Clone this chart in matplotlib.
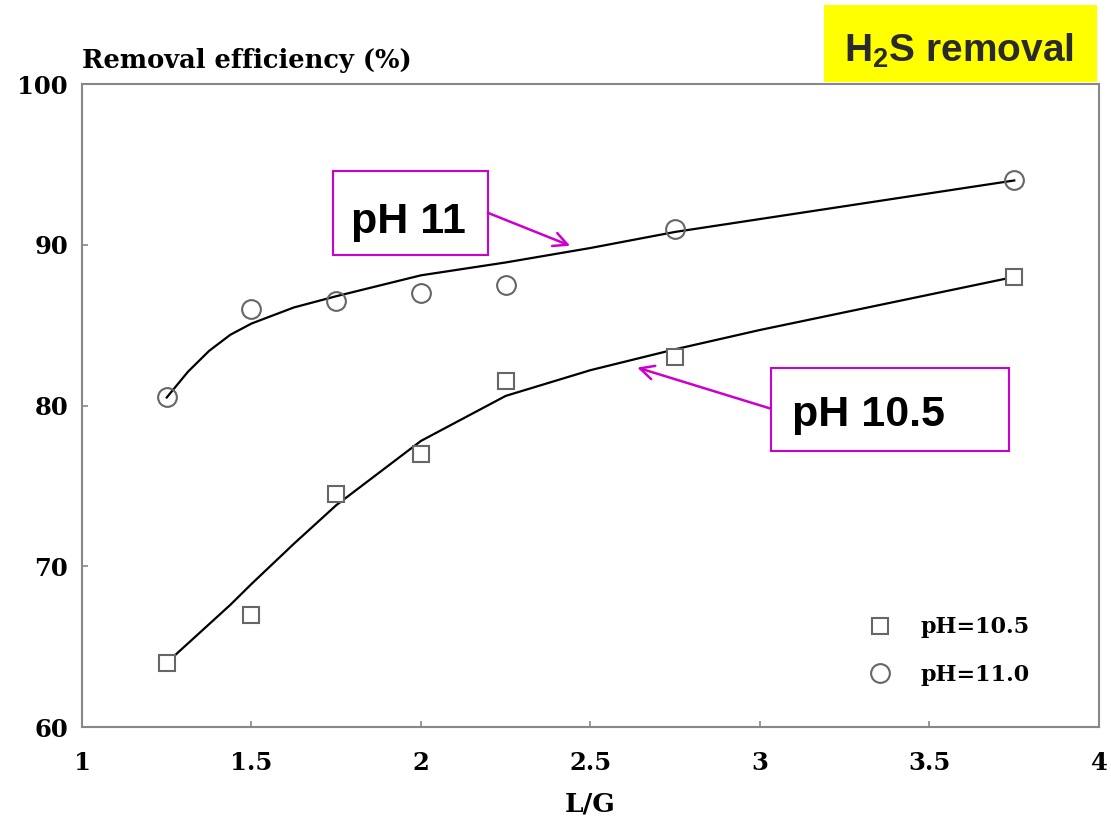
import matplotlib.pyplot as plt
from matplotlib import font_manager
from matplotlib.patches import Rectangle

# measured points
lg = [1.25, 1.5, 1.75, 2.0, 2.25, 2.75, 3.75]
eff_ph105 = [64.0, 67.0, 74.5, 77.0, 81.5, 83.0, 88.0]
eff_ph11 = [80.5, 86.0, 86.5, 87.0, 87.5, 91.0, 94.0]

# fitted curves
fit_lg = [1.25, 1.3125, 1.375, 1.4375, 1.5, 1.625, 1.75, 2.0, 2.25, 2.5, 2.75, 3.0,
          3.25, 3.5, 3.75]
fit_ph105 = [64.0, 65.2, 66.4, 67.6, 68.9, 71.4, 73.8, 77.8, 80.6, 82.2, 83.5, 84.7,
             85.8, 86.9, 88.0]
fit_ph11 = [80.5, 82.1, 83.4, 84.4, 85.1, 86.1, 86.8, 88.1, 88.9, 89.8, 90.8, 91.6,
            92.4, 93.2, 94.0]

x_ticks = [1, 1.5, 2, 2.5, 3, 3.5, 4]
x_ticklabels = ['1', '1.5', '2', '2.5', '3', '3.5', '4']
y_ticks = [60, 70, 80, 90, 100]

serif = 'DejaVu Serif'
installed = {f.name for f in font_manager.fontManager.ttflist}
if 'Liberation Sans Narrow' in installed:
    sans, k = 'Liberation Sans Narrow', 1.2
else:
    sans, k = 'Liberation Sans', 1.0
magenta = '#CC00CC'
spine_gray = '#888888'

plt.rcParams['mathtext.fontset'] = 'custom'
plt.rcParams['mathtext.rm'] = sans + ':bold'
plt.rcParams['mathtext.it'] = sans + ':bold'
plt.rcParams['mathtext.bf'] = sans + ':bold'

fig = plt.figure(figsize=(11.11, 8.18), dpi=100)
ax = fig.add_axes([0.0738, 0.1112, 0.9154, 0.7861])

ax.plot(fit_lg, fit_ph105, color='black', lw=1.6, zorder=2)
ax.plot(fit_lg, fit_ph11, color='black', lw=1.6, zorder=2)
ax.plot(lg, eff_ph105, ls='none', marker='s', ms=12, mfc='white', mec='#666666',
        mew=1.5, label='pH=10.5', zorder=3)
ax.plot(lg, eff_ph11, ls='none', marker='o', ms=13.5, mfc='none', mec='#666666',
        mew=1.5, label='pH=11.0', zorder=3)

ax.set_xlim(1, 4)
ax.set_ylim(60, 100)
ax.set_xticks(x_ticks)
ax.set_xticklabels(x_ticklabels)
ax.set_yticks(y_ticks)
for s in ax.spines.values():
    s.set_color(spine_gray)
    s.set_linewidth(1.5)
ax.tick_params(axis='x', direction='in', length=4, width=1.2, color=spine_gray, pad=17)
ax.tick_params(axis='y', direction='in', length=4, width=1.2, color=spine_gray, pad=10)
for lab in ax.get_xticklabels() + ax.get_yticklabels():
    lab.set_family(serif)
    lab.set_fontweight('bold')
    lab.set_fontsize(17.5)

ax.set_xlabel('L/G', family=serif, fontweight='bold', fontsize=19, labelpad=12)
ax.text(0, 1.025, 'Removal efficiency (%)', transform=ax.transAxes, ha='left',
        va='baseline', family=serif, fontweight='bold', fontsize=18.5)

leg = ax.legend(loc='upper left', bbox_to_anchor=(0.774, 0.172), frameon=False,
                prop={'family': serif, 'weight': 'bold', 'size': 16},
                handlelength=1.0, handletextpad=1.3, labelspacing=1.15,
                borderpad=0, borderaxespad=0)

# callout boxes
ax.add_patch(Rectangle((1.739, 89.38), 0.458, 5.22, fill=False, ec=magenta, lw=1.5,
                       clip_on=False, zorder=4))
ax.text(1.964, 91.43, 'pH 11', ha='center', va='center', family=sans,
        fontweight='bold', fontsize=31 * k, zorder=5)
ax.annotate('', xy=(2.44, 89.94), xytext=(2.197, 91.99),
            arrowprops=dict(arrowstyle='->', color=magenta, lw=1.8,
                            mutation_scale=25, shrinkA=0, shrinkB=0))

ax.add_patch(Rectangle((3.031, 77.20), 0.703, 5.16, fill=False, ec=magenta, lw=1.5,
                       clip_on=False, zorder=4))
ax.text(3.320, 79.44, 'pH 10.5', ha='center', va='center', family=sans,
        fontweight='bold', fontsize=31 * k, zorder=5)
ax.annotate('', xy=(2.638, 82.36), xytext=(3.031, 79.81),
            arrowprops=dict(arrowstyle='->', color=magenta, lw=1.8,
                            mutation_scale=25, shrinkA=0, shrinkB=0))

# yellow title tag
fig.patches.append(Rectangle((0.7417, 0.8998), 0.2457, 0.0941, transform=fig.transFigure,
                             facecolor='#FFFF00', edgecolor='none', zorder=5))
fig.text(0.8627, 0.9242, r'H$_2$S removal', ha='center', va='baseline',
         family=sans, fontweight='bold', fontsize=28 * k, color='#2A2A2A', zorder=6)

fig.savefig('out.png', dpi=100)
